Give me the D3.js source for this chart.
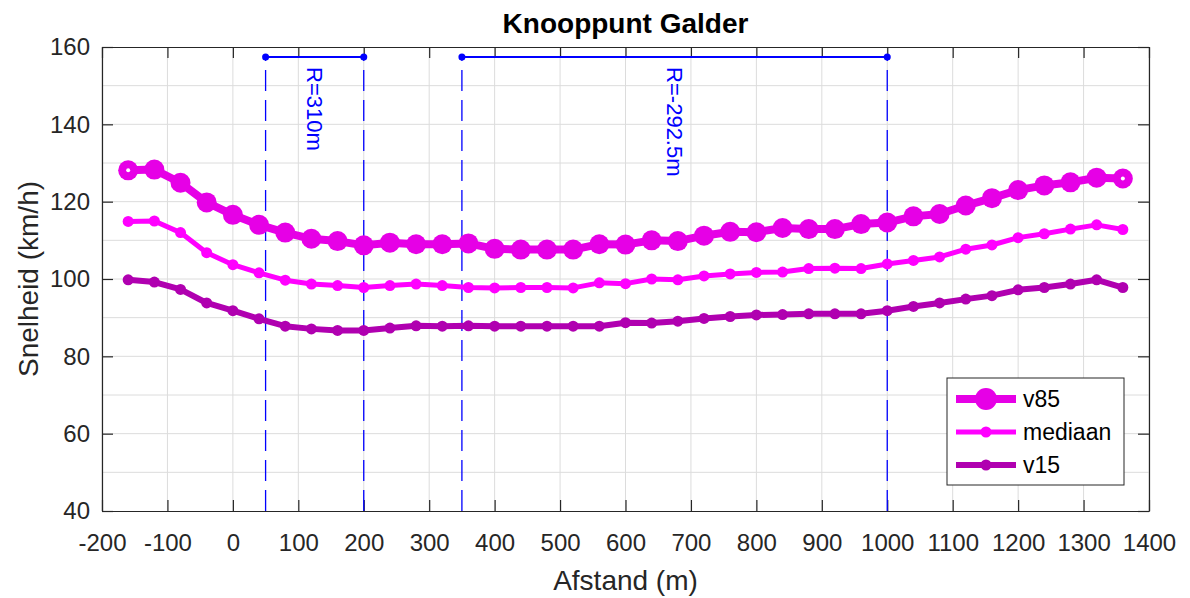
<!DOCTYPE html>
<html>
<head>
<meta charset="utf-8">
<script src="https://cdn.jsdelivr.net/npm/d3@7"></script>
<style>
  body { margin: 0; background: #fff; }
  text { font-family: "Liberation Sans", Arial, sans-serif; }
</style>
</head>
<body>
<div class="plot"></div>
<script>
// meetpunten langs de weg (m)
var afstand = [-160, -120, -80, -40, 0, 40, 80, 120, 160, 200, 240, 280, 320, 360,
    400, 440, 480, 520, 560, 600, 640, 680, 720, 760, 800, 840, 880, 920, 960, 1000,
    1040, 1080, 1120, 1160, 1200, 1240, 1280, 1320, 1360];

var v85 = [128.1, 128.3, 124.9, 119.8, 116.6, 114.0, 112.0, 110.4, 109.8, 108.7,
    109.4, 109.0, 109.0, 109.2, 107.8, 107.6, 107.6, 107.6, 109.0, 108.9,
    110.0, 109.8, 111.2, 112.2, 112.1, 113.2, 112.9, 112.9, 114.2, 114.6,
    116.2, 116.8, 119.0, 120.9, 123.0, 124.2, 125.0, 126.2, 126.0];

var mediaan = [114.9, 115.0, 112.0, 106.8, 103.7, 101.6, 99.7, 98.7, 98.3, 97.8,
    98.3, 98.7, 98.3, 97.8, 97.7, 97.8, 97.8, 97.7, 99.0, 98.8,
    100.0, 99.8, 100.8, 101.3, 101.7, 101.8, 102.7, 102.8, 102.7, 103.9,
    104.8, 105.7, 107.7, 108.8, 110.7, 111.7, 112.9, 114.0, 112.8];

var v15 = [99.8, 99.2, 97.3, 93.8, 91.8, 89.7, 87.8, 87.1, 86.7, 86.7,
    87.3, 87.9, 87.8, 87.9, 87.8, 87.8, 87.8, 87.8, 87.8, 88.7,
    88.6, 89.1, 89.8, 90.3, 90.7, 90.8, 91.0, 91.0, 91.0, 91.8,
    92.9, 93.8, 94.8, 95.7, 97.2, 97.8, 98.7, 99.8, 97.8];

var xTicks = [-200, -100, 0, 100, 200, 300, 400, 500, 600, 700, 800, 900, 1000, 1100, 1200, 1300, 1400];
var yTicks = [40, 60, 80, 100, 120, 140, 160];
var yGrid = [50, 60, 70, 80, 90, 100, 110, 120, 130, 140, 150];

// bogen
var bochtVan = [50, 350];
var bochtTot = [200, 1000];
var bochtLabel = ["R=310m", "R=-292.5m"];
var bochtLijnY = 157.4;

var svgWidth = 1190;
var svgHeight = 598;

var margin = { top: 47, right: 41, bottom: 87, left: 102 };
var width = svgWidth - margin.left - margin.right;
var height = svgHeight - margin.top - margin.bottom;

var axisColor = "#262626";
var gridColor = "#dcdcdc";
var blue = "#0000ff";
var fontFam = '"Liberation Sans", Arial, sans-serif';

var svg = d3.select(".plot")
    .append("svg")
    .attr("width", svgWidth)
    .attr("height", svgHeight)
    .style("display", "block");

svg.append("rect").attr("width", svgWidth).attr("height", svgHeight).attr("fill", "#fff");

var chartGroup = svg.append("g")
    .attr("transform", `translate(${margin.left}, ${margin.top})`);

var x = d3.scaleLinear().domain([-200, 1400]).range([0, width]);
var y = d3.scaleLinear().domain([40, 160]).range([height, 0]);

// grid
chartGroup.selectAll(".xgrid")
    .data(xTicks)
    .enter()
    .append("line")
    .attr("x1", d => x(d)).attr("x2", d => x(d))
    .attr("y1", 0).attr("y2", height)
    .attr("stroke", gridColor).attr("stroke-width", 1);

chartGroup.selectAll(".ygrid")
    .data(yGrid)
    .enter()
    .append("line")
    .attr("x1", 0).attr("x2", width)
    .attr("y1", d => y(d)).attr("y2", d => y(d))
    .attr("stroke", gridColor).attr("stroke-width", 1);

// axes (ticks inward), plain labels like "-200" and "1400"
var tickLen = 11;
var fmt = d => String(d);
var xAxis = d3.axisBottom(x).tickValues(xTicks).tickFormat(fmt)
    .tickSizeInner(-tickLen).tickSizeOuter(0).tickPadding(23);
var yAxis = d3.axisLeft(y).tickValues(yTicks).tickFormat(fmt)
    .tickSizeInner(-tickLen).tickSizeOuter(0).tickPadding(12);

var gx = chartGroup.append("g")
    .attr("transform", `translate(0, ${height})`)
    .call(xAxis);
var gy = chartGroup.append("g").call(yAxis);

var gxTop = chartGroup.append("g")
    .call(d3.axisTop(x).tickValues(xTicks).tickSizeInner(-tickLen).tickSizeOuter(0).tickFormat(""));
var gyRight = chartGroup.append("g")
    .attr("transform", `translate(${width}, 0)`)
    .call(d3.axisRight(y).tickValues(yTicks).tickSizeInner(-tickLen).tickSizeOuter(0).tickFormat(""));

[gx, gy, gxTop, gyRight].forEach(function (g) {
    g.selectAll("path").attr("stroke", axisColor).attr("stroke-width", 1.2);
    g.selectAll("line").attr("stroke", axisColor).attr("stroke-width", 1.2);
    g.selectAll("text")
        .attr("fill", axisColor)
        .attr("font-size", "24px")
        .style("font-family", fontFam);
});

// bogen: gestippelde lijnen van onder naar boven
var grenzen = bochtVan.concat(bochtTot);
chartGroup.selectAll(".grens")
    .data(grenzen)
    .enter()
    .append("line")
    .attr("x1", d => x(d)).attr("x2", d => x(d))
    .attr("y1", y(40)).attr("y2", y(bochtLijnY))
    .attr("stroke", blue)
    .attr("stroke-width", 1.3)
    .attr("stroke-dasharray", "21,9");

chartGroup.selectAll(".boog")
    .data(bochtVan)
    .enter()
    .append("line")
    .attr("x1", d => x(d))
    .attr("x2", (d, i) => x(bochtTot[i]))
    .attr("y1", y(bochtLijnY)).attr("y2", y(bochtLijnY))
    .attr("stroke", blue).attr("stroke-width", 2);

chartGroup.selectAll(".boogpunt")
    .data(grenzen)
    .enter()
    .append("circle")
    .attr("cx", d => x(d)).attr("cy", y(bochtLijnY))
    .attr("r", 3.5).attr("fill", blue);

chartGroup.selectAll(".booglabel")
    .data(bochtLabel)
    .enter()
    .append("text")
    .attr("transform", (d, i) => `translate(${x((bochtVan[i] + bochtTot[i]) / 2)}, ${y(154.8)}) rotate(90)`)
    .attr("dy", "0.35em")
    .attr("font-size", "22px")
    .attr("fill", blue)
    .text(d => d);

// reeksen
var series = [
    { name: "v85", values: v85, color: "rgb(230,0,230)", lw: 8, r: 10 },
    { name: "mediaan", values: mediaan, color: "rgb(255,0,255)", lw: 5, r: 5.5 },
    { name: "v15", values: v15, color: "rgb(176,0,176)", lw: 6, r: 5.5 }
];

var line = d3.line()
    .x((d, i) => x(afstand[i]))
    .y(d => y(d));

// teken v15 eerst, v85 bovenop
series.slice().reverse().forEach(function (s) {
    var g = chartGroup.append("g");
    g.append("path")
        .datum(s.values)
        .attr("d", line)
        .attr("fill", "none")
        .attr("stroke", s.color)
        .attr("stroke-width", s.lw)
        .attr("stroke-linejoin", "round");
    g.selectAll("circle")
        .data(s.values)
        .enter()
        .append("circle")
        .attr("cx", (d, i) => x(afstand[i]))
        .attr("cy", d => y(d))
        .attr("r", s.r)
        .attr("fill", s.color);
});

// witte kernpunten aan de uiteinden van v85
chartGroup.selectAll(".eindpunt")
    .data([0, afstand.length - 1])
    .enter()
    .append("circle")
    .attr("cx", i => x(afstand[i]))
    .attr("cy", i => y(v85[i]))
    .attr("r", 2)
    .attr("fill", "#fff");

// legenda
var legend = chartGroup.append("g")
    .attr("transform", `translate(${947 - margin.left}, ${378 - margin.top})`);
legend.append("rect")
    .attr("width", 177).attr("height", 107)
    .attr("fill", "#fff")
    .attr("stroke", axisColor).attr("stroke-width", 1);

series.forEach(function (s, i) {
    var ly = 21 + i * 33;
    legend.append("line")
        .attr("x1", 9).attr("x2", 69)
        .attr("y1", ly).attr("y2", ly)
        .attr("stroke", s.color).attr("stroke-width", s.lw);
    legend.append("circle")
        .attr("cx", 39).attr("cy", ly).attr("r", s.r + (i === 0 ? 1 : 0))
        .attr("fill", s.color);
    legend.append("text")
        .attr("x", 76).attr("y", ly)
        .attr("dy", "0.35em")
        .attr("font-size", "23px")
        .attr("fill", "#000")
        .text(s.name);
});

// titels
svg.append("text")
    .attr("x", margin.left + width / 2)
    .attr("y", 33)
    .attr("text-anchor", "middle")
    .attr("font-size", "28px")
    .attr("font-weight", "bold")
    .attr("fill", "#000")
    .text("Knooppunt Galder");

svg.append("text")
    .attr("x", margin.left + width / 2)
    .attr("y", 590)
    .attr("text-anchor", "middle")
    .attr("font-size", "28px")
    .attr("fill", axisColor)
    .text("Afstand (m)");

svg.append("text")
    .attr("transform", `translate(38, ${margin.top + height / 2}) rotate(-90)`)
    .attr("text-anchor", "middle")
    .attr("font-size", "28px")
    .attr("fill", axisColor)
    .text("Snelheid (km/h)");
</script>
</body>
</html>
